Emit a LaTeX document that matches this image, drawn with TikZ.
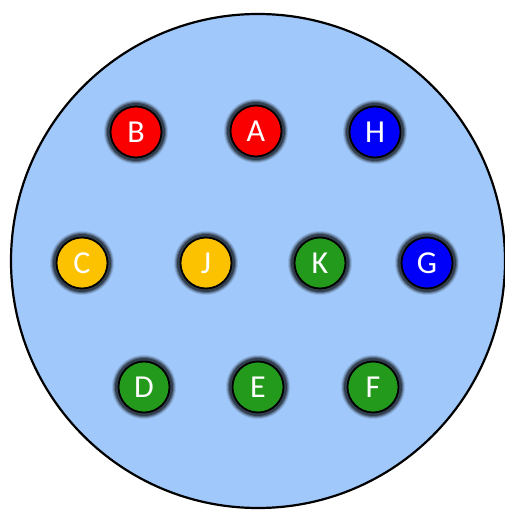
\documentclass[tikz,border=0pt]{standalone}
\usepackage{fontspec}
\setmainfont{Carlito}
\definecolor{bgblue}{RGB}{160,200,250}
\definecolor{cred}{RGB}{250,0,0}
\definecolor{cblue}{RGB}{0,0,250}
\definecolor{cyellow}{RGB}{252,194,0}
\definecolor{cgreen}{RGB}{36,154,28}
\tikzset{
  dot/.style={circle, draw=black, line width=1.8pt, minimum size=51pt, inner sep=0pt,
    text=white, font=\fontsize{32}{32}\selectfont},
}
\newcommand{\halodot}[4]{%
  \foreach \r/\o in {32/0.10,31/0.18,30/0.28,29/0.4}{
    \fill[black, opacity=\o] (#2) circle (\r pt);
  }
  \node[dot, fill=#3] (#1) at (#2) {#4};
}
\begin{document}
\begin{tikzpicture}[x=1pt,y=-1pt]
\useasboundingbox (0,0) rectangle (504,510);
\node[circle, draw=black, line width=2.2pt, fill=bgblue, minimum size=494pt, inner sep=0pt] (plate) at (258,261) {};
\halodot{B}{136,132}{cred}{B}
\halodot{A}{256,131}{cred}{A}
\halodot{H}{375,132}{cblue}{H}
\halodot{C}{82,263}{cyellow}{C}
\halodot{J}{206,263}{cyellow}{J}
\halodot{K}{320,263}{cgreen}{K}
\halodot{G}{427,263}{cblue}{G}
\halodot{D}{144,387}{cgreen}{D}
\halodot{E}{258,387}{cgreen}{E}
\halodot{F}{373,387}{cgreen}{F}
\end{tikzpicture}
\end{document}
